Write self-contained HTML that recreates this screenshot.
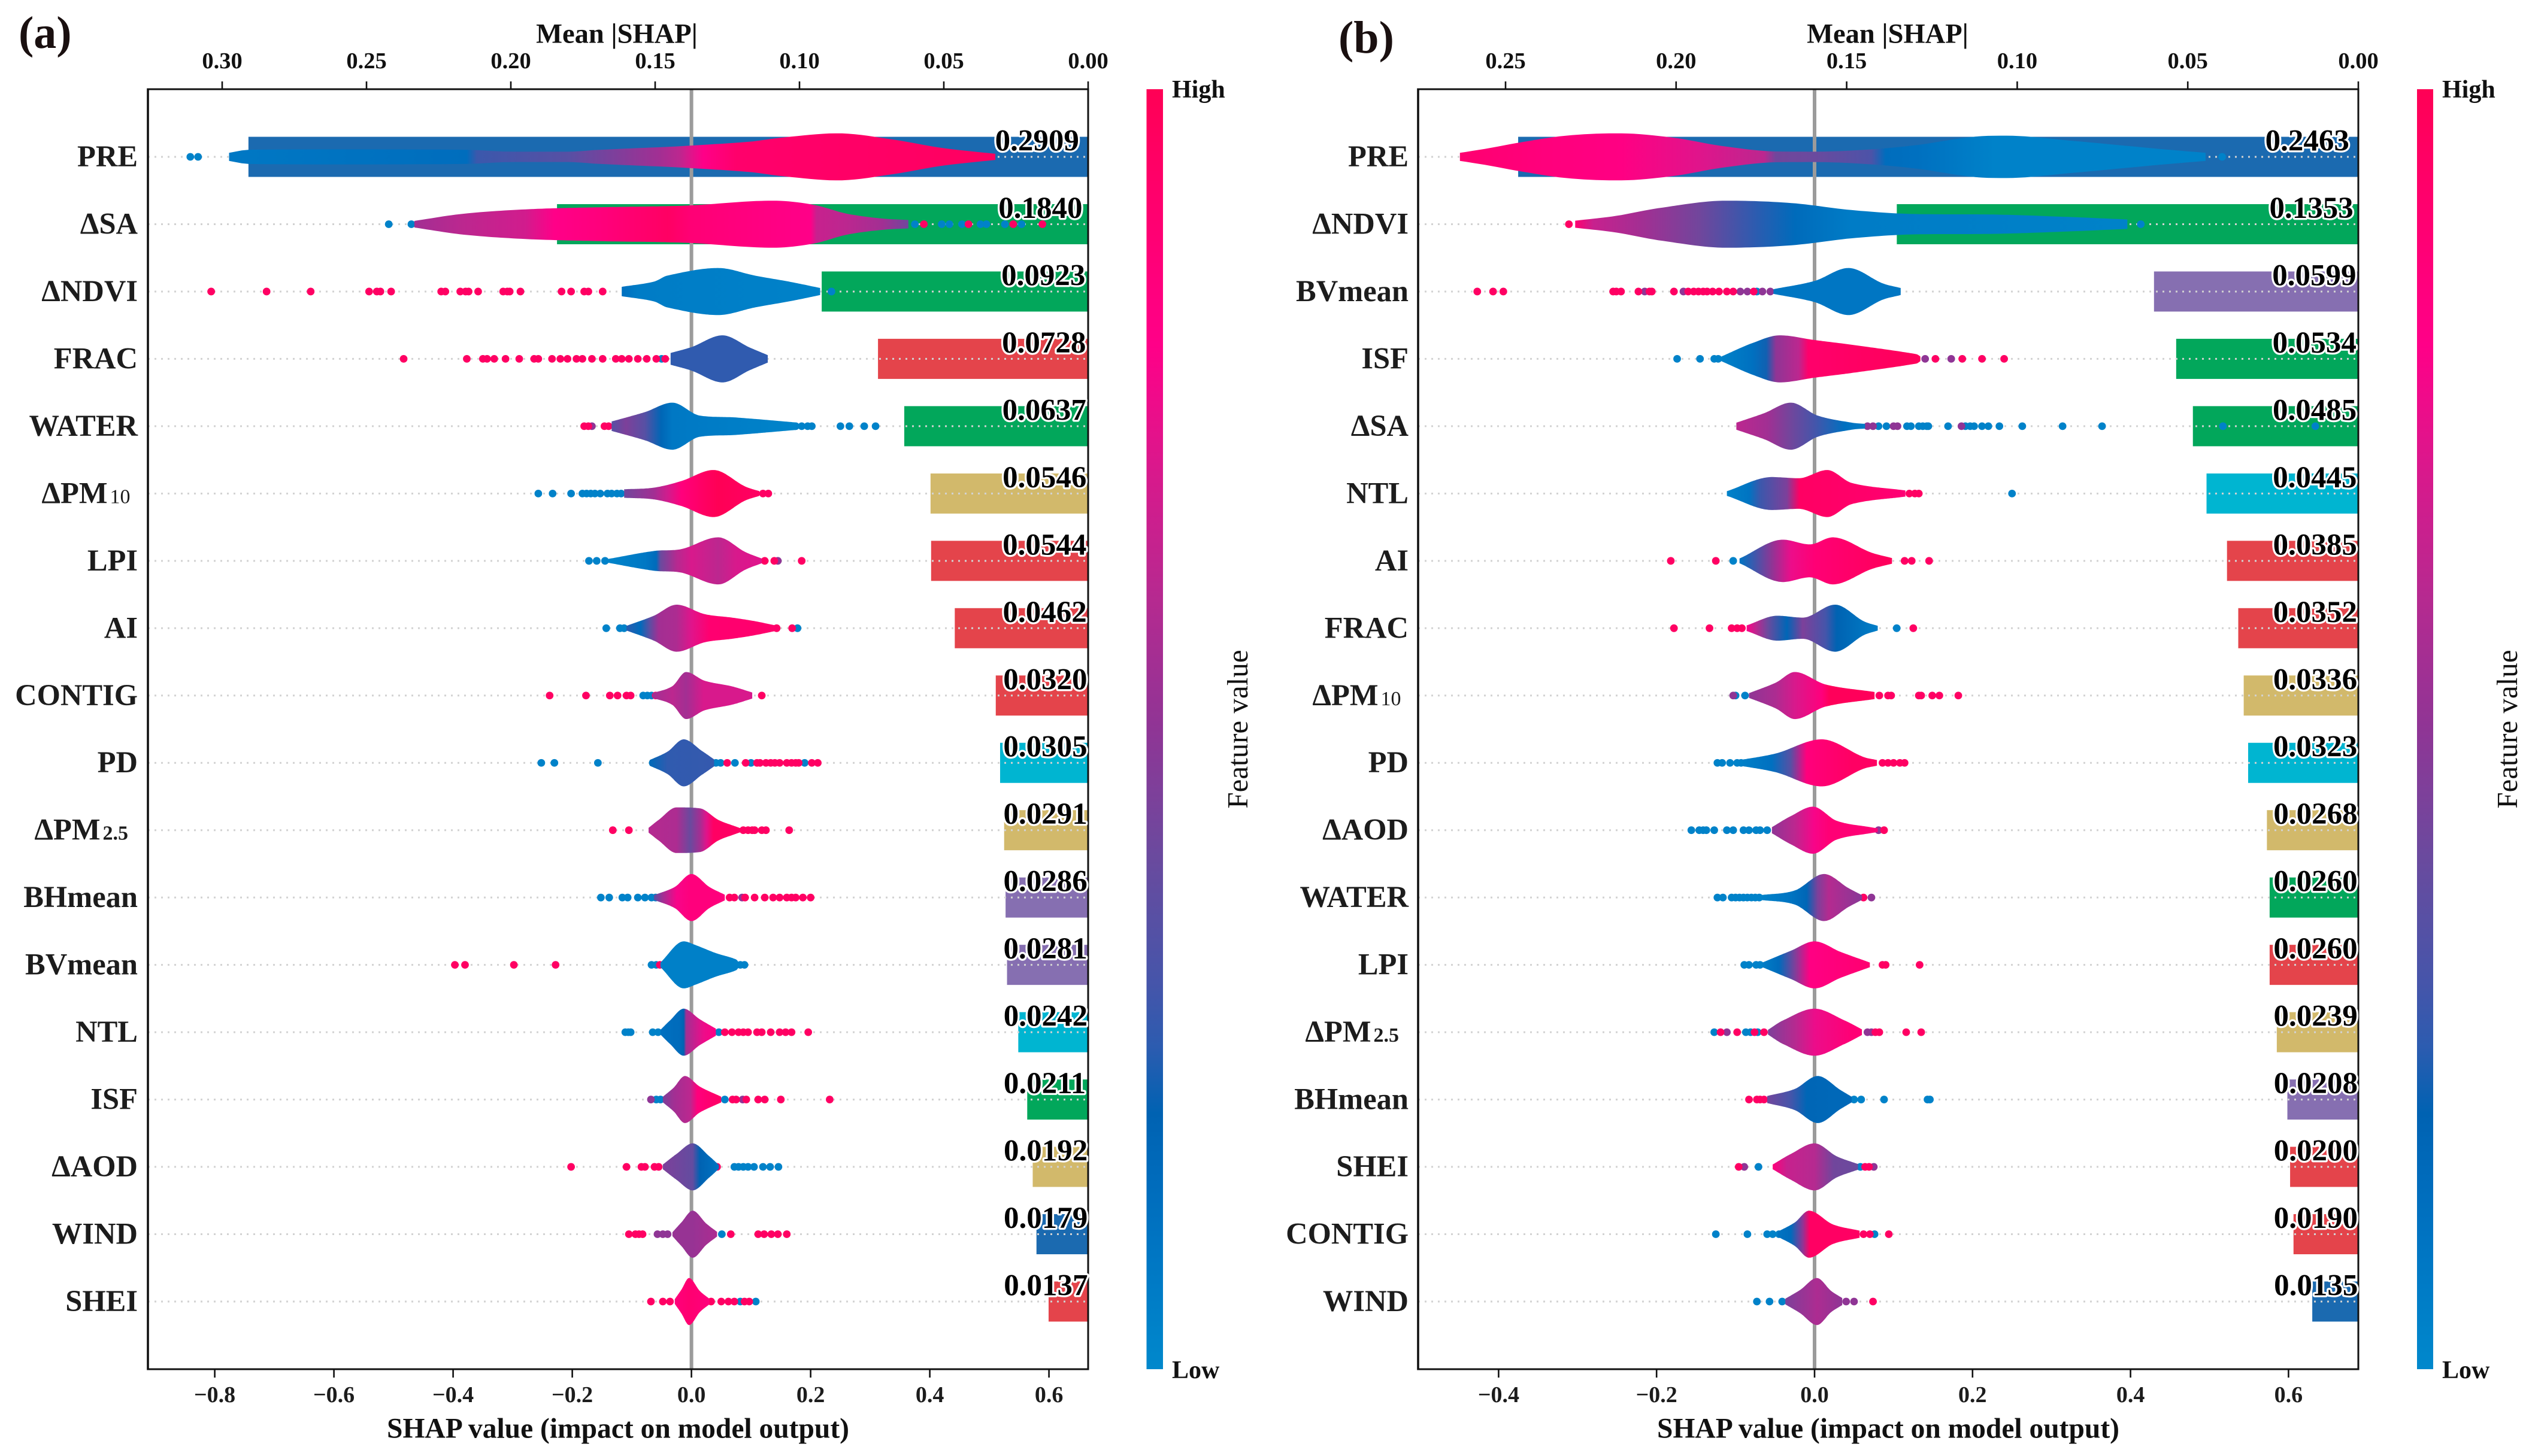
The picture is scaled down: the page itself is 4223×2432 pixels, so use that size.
<!DOCTYPE html>
<html lang="en">
<head>
<meta charset="utf-8">
<title>SHAP summary panels</title>
<style>
html,body{margin:0;padding:0;background:#fff;}
body{width:4223px;height:2432px;overflow:hidden;}
svg{display:block;font-family:"Liberation Serif","Noto Serif CJK SC",serif;}
</style>
</head>
<body>
<svg id="chart" xmlns="http://www.w3.org/2000/svg" width="4223" height="2432" viewBox="0 0 4223 2432"></svg>
<script>
/* ---------- shared tick labels ---------- */
const topTicksA = [0.30, 0.25, 0.20, 0.15, 0.10, 0.05, 0.00];
const bottomTicksA = [-0.8, -0.6, -0.4, -0.2, 0.0, 0.2, 0.4, 0.6];
const topTicksB = [0.25, 0.20, 0.15, 0.10, 0.05, 0.00];
const bottomTicksB = [-0.4, -0.2, 0.0, 0.2, 0.4, 0.6];

/* ---------- panel (a) ---------- */
const featuresA = ["PRE","ΔSA","ΔNDVI","FRAC","WATER","ΔPM10","LPI","AI","CONTIG","PD","ΔPM2.5","BHmean","BVmean","NTL","ISF","ΔAOD","WIND","SHEI"];
const meanShapA = [0.2909,0.1840,0.0923,0.0728,0.0637,0.0546,0.0544,0.0462,0.0320,0.0305,0.0291,0.0286,0.0281,0.0242,0.0211,0.0192,0.0179,0.0137];
const violinShapA = [
 [-.776,-.744,-.6,-.38,-.3,-.208,-.155,-.054,0,.1,.152,.245,.337,.42,.51],
 [-.465,-.384,-.279,-.155,-.054,0,.137,.206,.26,.32,.364],
 [-.117,-.063,-.04,.045,.106,.168,.216],
 [-.035,0,.052,.098,.128],
 [-.134,-.078,-.032,.014,.075,.175],
 [-.113,-.063,-.017,.037,.09,.114],
 [-.14,-.063,-.017,.045,.09,.118],
 [-.109,-.063,-.025,.022,.068,.106,.148],
 [-.065,-.032,-.009,.022,.068,.102],
 [-.07,-.04,-.013,.018,.038],
 [-.072,-.055,-.025,.014,.045,.075,.083],
 [-.063,-.028,0,.03,.056],
 [-.052,-.013,.006,.041,.075,.08],
 [-.052,-.036,-.013,.014,.041],
 [-.048,-.03,-.011,.014,.05],
 [-.048,-.025,.002,.03,.046],
 [-.032,-.017,.002,.025,.043],
 [-.028,-.017,-.004,.014,.03]
];
const violinDensityA = [
 [.17,.3,.32,.3,.22,.22,.3,.41,.48,.65,.82,1,.74,.38,.13],
 [.14,.44,.63,.72,.76,.8,1,.82,.45,.24,.18],
 [.2,.42,.68,1,.68,.4,.15],
 [.25,.5,1,.48,.16],
 [.2,.6,1,.45,.37,.16],
 [.18,.25,.53,1,.3,.1],
 [.08,.42,.5,1,.38,.1],
 [.1,.53,1,.6,.45,.3,.08],
 [.1,.4,1,.63,.39,.13],
 [.12,.48,1,.5,.15],
 [.1,.44,.97,.93,.44,.15,.08],
 [.1,.45,1,.45,.12],
 [.1,1,.85,.5,.23,.08],
 [.1,.5,1,.55,.15],
 [.12,.5,1,.55,.12],
 [.1,.55,1,.45,.08],
 [.08,.5,1,.45,.1],
 [.1,.5,1,.45,.12]
];
const colorShapA = [
 [-.776,-.377,-.36,-.208,-.054,-.02,0,.02,.075,.51],
 [-.465,-.384,-.279,-.23,-.155,-.04,0,.137,.2,.21,.26,.32,.364],
 [-.117,-.09,.216],
 [-.035,.128],
 [-.134,-.11,-.078,-.051,-.032,.175],
 [-.113,-.063,-.04,-.017,.02,.045,.114],
 [-.14,-.078,-.059,-.052,-.025,0,.045,.075,.118],
 [-.109,-.086,-.071,-.055,-.025,0,.03,.148],
 [-.065,-.032,-.009,.02,.102],
 [-.07,-.04,.038],
 [-.072,-.025,-.002,.014,.025,.037,.083],
 [-.063,-.048,-.025,0,.056],
 [-.052,.08],
 [-.052,-.02,-.013,-.009,.02,.041],
 [-.048,-.029,-.002,.01,.05],
 [-.048,.002,.014,.046],
 [-.032,.002,.043],
 [-.028,-.004,.03]
];
const colorValueA = [
 [.08,.14,.28,.35,.55,.62,.72,.8,.92,.96],
 [.55,.62,.68,.8,.85,.95,.88,.82,.8,.65,.62,.55,.42],
 [.12,.06,.03],
 [.26,.26],
 [.35,.45,.35,.18,.08,.02],
 [.42,.55,.68,.85,.95,1,.95],
 [.02,.08,.15,.4,.6,.7,.62,.7,.72],
 [.25,.15,.35,.55,.58,.72,.9,.92],
 [.55,.62,.55,.7,.7],
 [.16,.26,.27],
 [.6,.58,.4,.55,.72,.95,.95],
 [.35,.55,.78,.85,.85],
 [.04,.04],
 [.12,.15,.2,.55,.75,.82],
 [.45,.55,.62,.85,.95],
 [.45,.38,.2,.1],
 [.52,.52,.58],
 [.85,.9,.85]
];
const lowDotsA = [
 [-.841,-.828],
 [-.508,-.47,.375,.42,.433,.454,.485,.495,.526,.554],
 [.235],
 [-.05],
 [.175,.185,.195,.202,.25,.265,.29,.309],
 [-.257,-.233,-.202,-.183,-.176,-.169,-.162,-.153,-.141,-.134,-.125,-.118],
 [-.172,-.159,-.145],
 [-.143,-.12,-.113,.178],
 [-.081,-.074,-.067],
 [-.252,-.23,-.157,-.065,.041,.049,.073,.1,.19],
 [],
 [-.152,-.138,-.116,-.107,-.09,-.078,-.067,-.06],
 [-.067,-.059,.082,.089],
 [-.111,-.106,-.102,-.065,-.056,.046],
 [-.059,-.052,.056],
 [.072,.079,.087,.095,.105,.12,.132,.146],
 [.051],
 [.082,.108]
];
const highDotsA = [
 [],
 [.39,.465,.54,.589],
 [-.806,-.713,-.639,-.541,-.528,-.522,-.504,-.42,-.413,-.388,-.379,-.374,-.358,-.316,-.309,-.305,-.287,-.218,-.202,-.18,-.173,-.149],
 [-.483,-.377,-.35,-.343,-.331,-.312,-.289,-.264,-.257,-.234,-.22,-.208,-.193,-.183,-.167,-.149,-.127,-.117,-.105,-.09,-.075,-.059,-.044],
 [-.18,-.173,-.146,-.139],
 [.12,.129],
 [.123,.139,.185],
 [.143,.169],
 [-.238,-.177,-.137,-.124,-.109,-.102,-.06,.118],
 [.06,.091,.11,.115,.125,.133,.14,.148,.16,.168,.175,.18,.202,.212],
 [-.132,-.105,.087,.095,.102,.106,.118,.125,.164],
 [.064,.072,.09,.106,.123,.137,.148,.16,.168,.175,.187,.2],
 [-.397,-.38,-.298,-.228,-.053],
 [.056,.068,.079,.087,.095,.11,.118,.133,.148,.158,.168,.196],
 [.069,.075,.092,.112,.123,.15,.232],
 [-.202,-.109,-.084,-.078,-.062,-.055,.043],
 [-.105,-.094,-.088,-.082,.066,.112,.122,.134,.145,.16],
 [-.068,-.048,-.036,.033,.05,.062,.072,.089,.097]
];
const midDotsA = [
 [],[],[],[],
 [-.167],
 [],
 [.145],
 [],[],[],[],
 [.085],
 [],[],
 [-.068,.086],
 [],
 [-.057,-.048,-.04],
 []
];

/* ---------- panel (b) ---------- */
const featuresB = ["PRE","ΔNDVI","BVmean","ISF","ΔSA","NTL","AI","FRAC","ΔPM10","PD","ΔAOD","WATER","LPI","ΔPM2.5","BHmean","SHEI","CONTIG","WIND"];
const meanShapB = [0.2463,0.1353,0.0599,0.0534,0.0485,0.0445,0.0385,0.0352,0.0336,0.0323,0.0268,0.0260,0.0260,0.0239,0.0208,0.0200,0.0190,0.0135];
const violinShapB = [
 [-.449,-.412,-.375,-.315,-.248,-.18,-.117,-.049,0,.072,.129,.2,.243,.327,.426,.495],
 [-.303,-.252,-.194,-.112,-.03,.047,.129,.228,.327,.396],
 [-.052,0,.043,.086,.109],
 [-.118,-.078,-.044,0,.047,.129,.134],
 [-.099,-.064,-.03,.004,.047,.064],
 [-.111,-.054,-.02,.016,.047,.115],
 [-.095,-.04,-.006,.023,.072,.098],
 [-.086,-.047,-.015,.026,.062,.08],
 [-.083,-.049,-.025,.014,.076],
 [-.098,-.049,.009,.062,.079],
 [-.054,-.03,-.002,.028,.072,.08],
 [-.069,-.025,.012,.043,.06],
 [-.066,-.03,0,.033,.07],
 [-.059,-.04,0,.038,.06],
 [-.06,-.025,.004,.033,.047],
 [-.053,-.03,0,.028,.055],
 [-.047,-.025,-.007,.023,.057],
 [-.037,-.018,.003,.021,.035]
];
const violinDensityB = [
 [.17,.37,.6,.9,1,.82,.46,.23,.22,.32,.5,.85,.9,.68,.37,.17],
 [.15,.35,.7,1,.9,.6,.43,.41,.3,.2],
 [.1,.45,1,.35,.15],
 [.1,.68,1,.8,.6,.2,.1],
 [.15,.55,1,.45,.15,.1],
 [.1,.7,.65,1,.45,.13],
 [.1,.9,.7,1,.35,.12],
 [.12,.53,.45,1,.3,.1],
 [.1,.55,1,.47,.15],
 [.1,.4,1,.25,.12],
 [.13,.6,1,.4,.12,.08],
 [.1,.3,1,.4,.1],
 [.1,.6,1,.55,.1],
 [.1,.5,1,.5,.12],
 [.15,.45,1,.4,.12],
 [.1,.55,1,.45,.12],
 [.1,.5,1,.42,.15],
 [.12,.5,1,.45,.15]
];
const colorShapB = [
 [-.449,-.34,-.244,-.147,-.064,-.049,0,.072,.09,.129,.228,.495],
 [-.303,-.28,-.218,-.146,-.073,-.025,.047,.396],
 [-.052,.109],
 [-.118,-.078,-.061,-.049,-.02,-.008,.129],
 [-.099,-.06,-.03,0,.038,.064],
 [-.111,-.083,-.069,-.035,-.019,.07,.115],
 [-.095,-.074,-.054,-.03,0,.098],
 [-.086,-.074,-.059,-.035,-.015,.014,.028,.08],
 [-.083,-.049,-.025,.009,.019,.076],
 [-.098,-.054,-.03,-.01,.047,.079],
 [-.054,-.025,-.001,.018,.078],
 [-.069,-.03,-.01,.004,.018,.06],
 [-.066,-.045,-.025,-.006,.07],
 [-.059,-.025,0,.047],
 [-.06,-.03,-.01,.047],
 [-.053,-.035,0,.024,.055],
 [-.047,-.03,-.015,-.006,.057],
 [-.037,.003,.035]
];
const colorValueB = [
 [.9,.85,.82,.72,.62,.42,.4,.32,.14,.12,.03,.03],
 [.9,.65,.55,.42,.25,.15,.06,.03],
 [.09,.09],
 [.03,.12,.22,.5,.62,.92,.98],
 [.62,.55,.42,.3,.12,.06],
 [.03,.1,.28,.45,.95,.92,.88],
 [.1,.3,.5,.75,.88,.98],
 [.8,.62,.4,.18,.45,.3,.2,.05],
 [.5,.58,.7,.85,.98,.98],
 [.03,.12,.35,.85,.95,.95],
 [.5,.62,.78,.88,.88],
 [.03,.1,.18,.45,.6,.48],
 [.05,.15,.45,.82,.9],
 [.45,.6,.75,.88],
 [.42,.3,.18,.16],
 [.85,.65,.6,.42,.4],
 [.1,.15,.5,.95,.95],
 [.45,.58,.5]
];
const lowDotsB = [
 [.516],
 [.413],
 [-.073],
 [-.174,-.145,-.127,-.122],
 [.081,.091,.117,.122,.132,.137,.142,.144,.169,.191,.197,.202,.212,.22,.234,.263,.314,.364,.517,.634],
 [.25],
 [-.103],
 [.104],
 [-.1,-.088],
 [-.123,-.117,-.107,-.098,-.093],
 [-.156,-.146,-.141,-.137,-.127,-.111,-.103,-.09,-.083,-.074,-.069,-.06],
 [-.123,-.116,-.105,-.1,-.095,-.09,-.085,-.08,-.075,-.07],
 [-.089,-.083,-.074,-.069],
 [-.127,-.087,-.081,-.072],
 [.05,.059,.088,.143,.146],
 [-.071,.058],
 [-.125,-.085,-.06,-.053,-.045,.076],
 [-.073,-.057,-.041]
];
const highDotsB = [
 [],
 [-.311],
 [-.427,-.407,-.394,-.255,-.251,-.245,-.223,-.209,-.206,-.178,-.16,-.153,-.147,-.141,-.136,-.129,-.121,-.111,-.103,-.077],
 [.153,.187,.212,.24],
 [],
 [.12,.127,.132],
 [-.182,-.125,.114,.123,.145],
 [-.178,-.133,-.105,-.098,-.092,.125],
 [.082,.093,.097,.132,.135,.149,.158,.182],
 [.086,.093,.1,.108,.114],
 [.088],
 [.062],
 [.086,.09,.133],
 [-.119,-.098,-.076,-.064,.077,.082,.116,.135],
 [-.083,-.073,-.069,-.064],
 [-.096,.064,.069],
 [.062,.07,.094],
 [.074]
];
const midDotsB = [
 [],[],
 [-.215,-.166,-.094,-.085,-.066,-.056],
 [.14,.173],
 [.067,.074,.1,.105,.186],
 [],[],[],
 [-.103],
 [],
 [.081],
 [.072],
 [],
 [-.111,.067,.072],
 [],
 [-.089,.075],
 [],
 [.04,.05]
];

/* ---------- category colours for importance bars ---------- */
const featureGroup = {PRE:"climate",WIND:"climate","ΔSA":"cover","ΔNDVI":"cover",ISF:"cover",WATER:"cover",FRAC:"pattern",LPI:"pattern",AI:"pattern",CONTIG:"pattern",SHEI:"pattern",PD:"social",NTL:"social","ΔPM10":"air","ΔPM2.5":"air","ΔAOD":"air",BHmean:"urban",BVmean:"urban"};
const groupColor = {climate:"#1b6ab0",cover:"#02a75b",pattern:"#e4444b",social:"#00b5d1",air:"#d2b96b",urban:"#866fb1"};

/* ---------- colour map ---------- */
const cmapStops = [[0,[0,136,204]],[.12,[0,112,192]],[.2,[0,98,178]],[.25,[43,92,176]],[.3,[69,85,170]],[.4,[106,74,158]],[.5,[143,53,149]],[.6,[181,42,144]],[.7,[216,25,140]],[.8,[255,0,136]],[.9,[255,0,112]],[1,[255,0,85]]];
function cmap(v){
  v=Math.max(0,Math.min(1,v));
  for(let i=1;i<cmapStops.length;i++){
    if(v<=cmapStops[i][0]){
      const a=cmapStops[i-1],b=cmapStops[i],t=(v-a[0])/(b[0]-a[0]);
      const c=a[1].map((q,k)=>Math.round(q+(b[1][k]-q)*t));
      return "rgb("+c.join(",")+")";
    }
  }
  return "rgb(255,0,85)";
}

/* ---------- helpers ---------- */
const NS="http://www.w3.org/2000/svg";
const svg=document.getElementById("chart");
function mk(tag,attrs,parent,txt){
  const el=document.createElementNS(NS,tag);
  for(const k in attrs)el.setAttribute(k,attrs[k]);
  if(txt!==undefined)el.textContent=txt;
  (parent||svg).appendChild(el);
  return el;
}
function smoothCurve(xs,ys){
  const n=xs.length,dl=[],m=new Array(n);
  for(let i=0;i<n-1;i++)dl[i]=(ys[i+1]-ys[i])/(xs[i+1]-xs[i]);
  m[0]=dl[0];m[n-1]=dl[n-2];
  for(let i=1;i<n-1;i++){
    if(dl[i-1]*dl[i]<=0){m[i]=0;continue;}
    const avg=(ys[i+1]-ys[i-1])/(xs[i+1]-xs[i-1]);
    const lim=3*Math.min(Math.abs(dl[i-1]),Math.abs(dl[i]));
    m[i]=Math.sign(avg)*Math.min(Math.abs(avg),lim);
  }
  return function(x){
    let i=0;while(i<n-2&&x>xs[i+1])i++;
    const h=xs[i+1]-xs[i],t=(x-xs[i])/h,t2=t*t,t3=t2*t;
    return (2*t3-3*t2+1)*ys[i]+(t3-2*t2+t)*h*m[i]+(-2*t3+3*t2)*ys[i+1]+(t3-t2)*h*m[i+1];
  };
}
function subscriptTrim(name){
  if(name==="ΔPM10")return 12.5;
  if(name==="ΔPM2.5")return 16;
  return 0;
}

const ROW0=262,ROWSTEP=112.47,BARH=67,TOP=149,BOTTOM=2287,MAXHALF=39.3;
function rowY(i){return ROW0+ROWSTEP*i;}

function drawPanel(p){
  const xB=v=>p.zeroX+p.unit*v;
  const xT=v=>p.right-p.topUnit*v;
  const g=mk("g",{});
  
  

  /* importance bars */
  p.features.forEach((f,i)=>{
    const x=xT(p.mean[i]);
    const r=mk("rect",{x:x,y:rowY(i)-BARH/2,width:p.right-x,height:BARH,fill:groupColor[featureGroup[f]]},g);
    
    
  });

  /* row guides */
  p.features.forEach((f,i)=>{
    const l=mk("line",{x1:p.left,x2:p.right,y1:rowY(i),y2:rowY(i),stroke:"#d2d2d2","stroke-width":3,"stroke-dasharray":"3 8"},g);
    
    
  });

  /* zero line */
  const z=mk("line",{x1:xB(0),x2:xB(0),y1:TOP,y2:BOTTOM,stroke:"#9b9b9b","stroke-width":6},g);
  
  

  /* outlier dots */
  const dotSets=[[p.low,.03],[p.mid,.5],[p.high,.95]];
  dotSets.forEach(set=>{
    set[0].forEach((arr,i)=>{
      arr.forEach(v=>{
        const c=mk("circle",{cx:xB(v),cy:rowY(i),r:6.4,fill:cmap(set[1])},g);
        
        
      });
    });
  });

  /* violins */
  p.features.forEach((f,i)=>{
    const S=p.vs[i],D=p.vd[i],CS=p.cs[i],CV=p.cv[i];
    const s0=S[0],s1=S[S.length-1];
    const grad=mk("linearGradient",{id:p.id+"-g"+i,gradientUnits:"userSpaceOnUse",x1:xB(s0),x2:xB(s1),y1:0,y2:0},g);
    CS.forEach((c,k)=>{
      const off=Math.max(0,Math.min(1,(c-s0)/(s1-s0)));
      mk("stop",{offset:off,"stop-color":cmap(CV[k])},grad);
    });
    const fn=smoothCurve(S,D),N=120,upper=[],lower=[];
    for(let k=0;k<=N;k++){
      const s=s0+(s1-s0)*k/N,h=Math.max(0,fn(s))*MAXHALF,x=xB(s).toFixed(1);
      upper.push(x+","+(rowY(i)-h).toFixed(1));
      lower.unshift(x+","+(rowY(i)+h).toFixed(1));
    }
    const v=mk("polygon",{points:upper.concat(lower).join(" "),fill:"url(#"+p.id+"-g"+i+")"},g);
    
    
  });

  /* spines */
  const frame=[[p.left,TOP,p.right,TOP],[p.left,BOTTOM,p.right,BOTTOM],[p.left,TOP-1.5,p.left,BOTTOM+1.5],[p.right,TOP-1.5,p.right,BOTTOM+1.5]];
  frame.forEach((s,k)=>{
    const l=mk("line",{x1:s[0],y1:s[1],x2:s[2],y2:s[3],stroke:"#111","stroke-width":k===2?3.6:3},g);
    
    
  });

  /* feature labels */
  p.features.forEach((f,i)=>{
    const t=mk("text",{x:p.labelRight-subscriptTrim(f),y:rowY(i)+16,"text-anchor":"end","font-size":50.5,"font-weight":"bold",fill:"#1c1c1c"},g);
    
    
    const m=f.match(/^(ΔPM)(.+)$/);
    if(m){
      mk("tspan",{},t,m[1]);
      mk("tspan",{"font-size":34,"dx":4,"font-weight":m[2]==="10"?"normal":"bold"},t,m[2]);
    }else{
      t.textContent=f;
    }
  });

  /* top ticks */
  p.topTicks.forEach(v=>{
    const l=mk("line",{x1:xT(v),x2:xT(v),y1:TOP-13,y2:TOP,stroke:"#111","stroke-width":2.6},g);
    
    
    const t=mk("text",{x:xT(v),y:114,"text-anchor":"middle","font-size":38.5,"font-weight":"bold",fill:"#111"},g,v.toFixed(2));
    
    
  });

  /* bottom ticks */
  p.bottomTicks.forEach(v=>{
    const l=mk("line",{x1:xB(v),x2:xB(v),y1:BOTTOM,y2:BOTTOM+14,stroke:"#111","stroke-width":2.6},g);
    
    
    const lab=(v<0?"\u2212":"")+Math.abs(v).toFixed(1);
    const t=mk("text",{x:xB(v),y:2342,"text-anchor":"middle","font-size":38,"font-weight":"bold",fill:"#1c1c1c"},g,lab);
    
    
  });

  /* value labels */
  p.features.forEach((f,i)=>{
    const v=p.mean[i];
    const lx=p.right-140-0.011*v*p.topUnit;
    const t=mk("text",{x:lx,y:rowY(i)-10.5,"font-size":51,"font-weight":"bold",fill:"#000",stroke:"#fff","stroke-width":6.5,"paint-order":"stroke","stroke-linejoin":"round"},g,v.toFixed(4));
    
    
  });

  /* axis titles */
  const tt=mk("text",{x:p.topTitleX,y:71.5,"text-anchor":"middle","font-size":46.5,"font-weight":"bold",fill:"#111"},g,"Mean |SHAP|");
  
  
  const bt=mk("text",{x:p.bottomTitleX,y:2401.5,"text-anchor":"middle","font-size":47.5,"font-weight":"bold",fill:"#111"},g,"SHAP value (impact on model output)");
  
  

  /* panel letter */
  const pl=mk("text",{x:p.letterX,y:p.letterY,"font-size":76,"font-weight":"bold",fill:"#1a1010"},g,p.letter);
  
  

  /* colour bar */
  const cg=mk("linearGradient",{id:p.id+"-cbar",x1:0,x2:0,y1:1,y2:0},g);
  for(let k=0;k<=20;k++){
    mk("stop",{offset:k/20,"stop-color":cmap(k/20)},cg);
  }
  const cb=mk("rect",{x:p.cbarX,y:TOP,width:p.cbarW,height:BOTTOM-TOP,fill:"url(#"+p.id+"-cbar)"},g);
  
  
  const hi=mk("text",{x:p.cbarLabelX,y:163,"font-size":42,"font-weight":"bold",fill:"#111"},g,"High");
  
  
  const lo=mk("text",{x:p.cbarLabelX,y:2302,"font-size":42,"font-weight":"bold",fill:"#111"},g,"Low");
  
  
  const fv=mk("text",{transform:"translate("+p.cbarTitleX+",1218) rotate(-90)","text-anchor":"middle","font-size":49,fill:"#111"},g,"Feature value");
  
  
}

drawPanel({id:"pa",name:"panel-a",letter:"(a)",letterX:31,letterY:80,left:247,right:1817,zeroX:1154.6,unit:995,topUnit:4820,labelRight:230,topTitleX:1030,bottomTitleX:1032,cbarX:1914.5,cbarW:27.5,cbarLabelX:1957,cbarTitleX:2083,features:featuresA,mean:meanShapA,vs:violinShapA,vd:violinDensityA,cs:colorShapA,cv:colorValueA,low:lowDotsA,high:highDotsA,mid:midDotsA,topTicks:topTicksA,bottomTicks:bottomTicksA});
drawPanel({id:"pb",name:"panel-b",letter:"(b)",letterX:2235,letterY:88,left:2368,right:3938,zeroX:3030,unit:1319,topUnit:5696,labelRight:2352,topTitleX:3152,bottomTitleX:3153,cbarX:4036,cbarW:27,cbarLabelX:4078,cbarTitleX:4203,features:featuresB,mean:meanShapB,vs:violinShapB,vd:violinDensityB,cs:colorShapB,cv:colorValueB,low:lowDotsB,high:highDotsB,mid:midDotsB,topTicks:topTicksB,bottomTicks:bottomTicksB});
</script>
</body>
</html>
